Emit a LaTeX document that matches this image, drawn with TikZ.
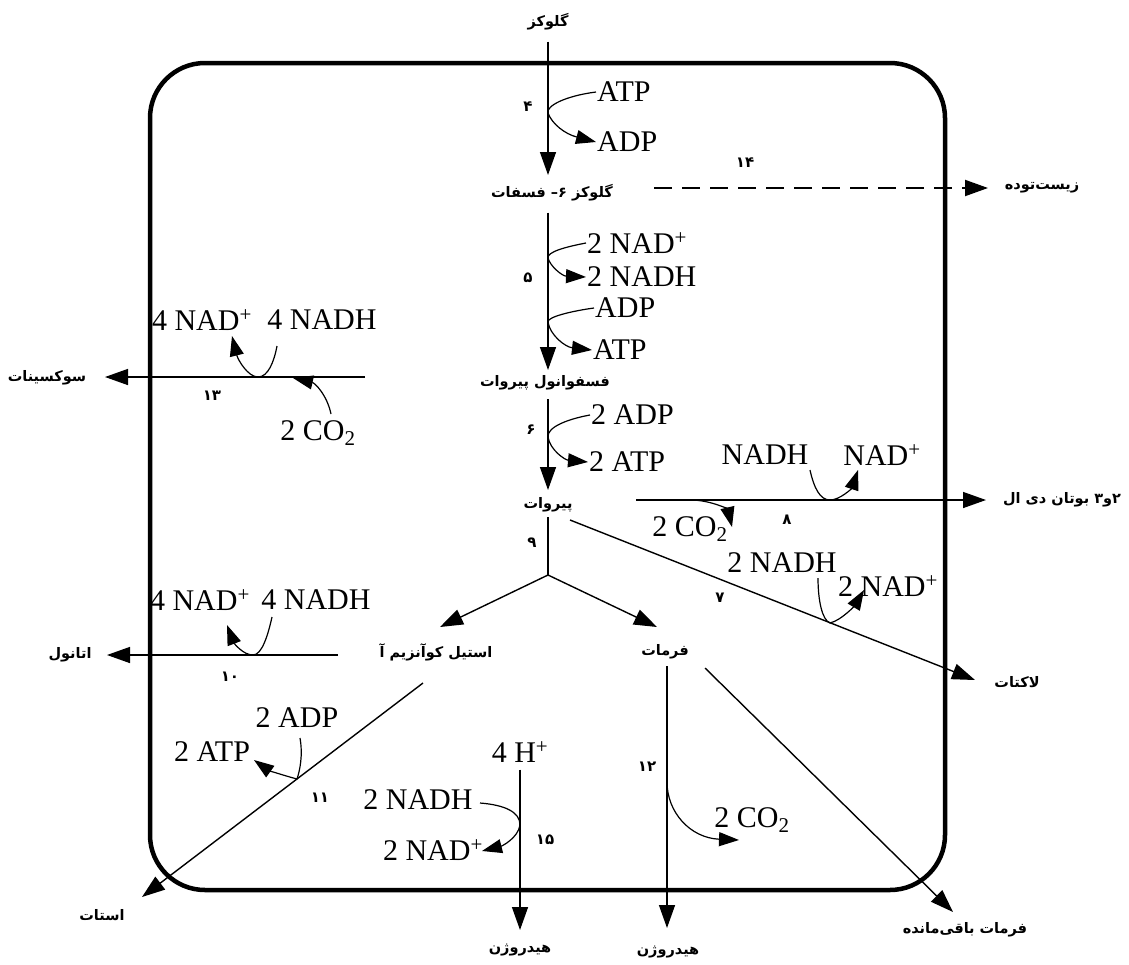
\documentclass[tikz,border=0pt]{standalone}
\usepackage{fontspec}
\setmainfont{Liberation Serif}
\newfontfamily\fa[Script=Arabic]{DejaVu Sans}
\TeXXeTstate=1
\usetikzlibrary{arrows.meta}
\begin{document}
\begin{tikzpicture}[x=1pt,y=-1pt,
  every node/.style={inner sep=1pt},
  fa/.style={font=\fa\bfseries\fontsize{14.5}{16}\selectfont},
  num/.style={font=\fa\bfseries\fontsize{15}{16}\selectfont},
  chem/.style={font=\fontsize{30}{32}\selectfont},
  flow/.style={line width=1.4pt,-{Triangle[length=23pt,width=16pt]}},
  side/.style={line width=1.2pt,-{Triangle[length=20pt,width=14pt]}},
  plain/.style={line width=1.4pt},
  cell/.style={line width=4.5pt,rounded corners=55pt}
]
\useasboundingbox (0,0) rectangle (1129,964);
\draw[cell] (150,63) rectangle (945,890);

% metabolites
\node[fa] (glc) at (548,22) {\beginR گلوکز\endR};
\node[fa] (g6p) at (552,193) {\beginR گلوکز ۶– فسفات\endR};
\node[fa] (pep) at (545,383) {\beginR فسفوانول پیروات\endR};
\node[fa] (pyr) at (548,505) {\beginR پیروات\endR};
\node[fa] (acoa) at (436,652) {\beginR استیل کوآنزیم آ\endR};
\node[fa] (form) at (665,652) {\beginR فرمات\endR};
\node[fa] (biom) at (1042,188) {\beginR زیست‌توده\endR};
\node[fa] (succ) at (47,378) {\beginR سوکسینات\endR};
\node[fa] (bdo) at (1062,500) {\beginR ۲و۳ بوتان دی ال\endR};
\node[fa] (lac) at (1017,682) {\beginR لاکتات\endR};
\node[fa] (eth) at (70,655) {\beginR اتانول\endR};
\node[fa] (acet) at (102,915) {\beginR استات\endR};
\node[fa] (h2a) at (520,950) {\beginR هیدروژن\endR};
\node[fa] (h2b) at (668,952) {\beginR هیدروژن\endR};
\node[fa] (fres) at (965,930) {\beginR فرمات باقی‌مانده\endR};

% step numbers
\node[num] (n4) at (528,107) {۴};
\node[num] (n14) at (745,163) {۱۴};
\node[num] (n5) at (528,278) {۵};
\node[num] (n6) at (531,430) {۶};
\node[num] (n9) at (532,543) {۹};
\node[num] (n8) at (787,520) {۸};
\node[num] (n7) at (720,598) {۷};
\node[num] (n13) at (212,396) {۱۳};
\node[num] (n10) at (230,677) {۱۰};
\node[num] (n11) at (320,798) {۱۱};
\node[num] (n15) at (545,840) {۱۵};
\node[num] (n12) at (647,767) {۱۲};

% cofactors
\node[chem,anchor=west] (atp4) at (596,92) {ATP};
\node[chem,anchor=west] (adp4) at (596,142) {ADP};
\node[chem,anchor=west] (nad5) at (586,243) {2 NAD\textsuperscript{+}};
\node[chem,anchor=west] (nadh5) at (586,277) {2 NADH};
\node[chem,anchor=west] (adp5) at (594,308) {ADP};
\node[chem,anchor=west] (atp5) at (592,350) {ATP};
\node[chem,anchor=west] (adp6) at (590,415) {2 ADP};
\node[chem,anchor=west] (atp6) at (588,462) {2 ATP};
\node[chem] (nadh8) at (765,455) {NADH};
\node[chem] (nad8) at (882,455) {NAD\textsuperscript{+}};
\node[chem] (co28) at (690,529) {2 CO\textsubscript{2}};
\node[chem] (nadh7) at (782,563) {2 NADH};
\node[chem] (nad7) at (888,586) {2 NAD\textsuperscript{+}};
\node[chem] (nad13) at (202,320) {4 NAD\textsuperscript{+}};
\node[chem] (nadh13) at (322,320) {4 NADH};
\node[chem] (co213) at (318,433) {2 CO\textsubscript{2}};
\node[chem] (nad10) at (200,600) {4 NAD\textsuperscript{+}};
\node[chem] (nadh10) at (316,600) {4 NADH};
\node[chem] (adp11) at (297,718) {2 ADP};
\node[chem] (atp11) at (212,752) {2 ATP};
\node[chem] (hp) at (520,752) {4 H\textsuperscript{+}};
\node[chem] (nadh15) at (418,800) {2 NADH};
\node[chem] (nad15) at (433,850) {2 NAD\textsuperscript{+}};
\node[chem] (co212) at (752,820) {2 CO\textsubscript{2}};

% points on pathway lines
\coordinate (c4) at (548,113);
\coordinate (c5a) at (548,258);
\coordinate (c5b) at (548,322);
\coordinate (c6) at (548,437);
\coordinate (br) at (548,575);
\coordinate (tipA) at (440,627);
\coordinate (tipF) at (657,627);
\coordinate (e8s) at (636,500);
\coordinate (e8) at (986,500);
\coordinate (c8a) at (690,500);
\coordinate (c8b) at (830,500);
\coordinate (lacs) at (570,520);
\coordinate (c7) at (830,623);
\coordinate (e13) at (365,377);
\coordinate (c13a) at (258,377);
\coordinate (c13b) at (293,378);
\coordinate (e10) at (338,655);
\coordinate (c10) at (253,655);
\coordinate (acs) at (423,683);
\coordinate (c11) at (297,779);
\coordinate (c15) at (520,825);
\coordinate (c12) at (667,782);
\coordinate (frs) at (705,668);

% main pathway
\draw[flow] (glc.south) ++(0,10) -- (548,175);
\draw[flow] (g6p.south -| c4) ++(0,10) -- (548,370);
\draw[flow] (pep.south -| c4) ++(0,8) -- (548,490);
\draw[plain] (pyr.south -| c4) ++(0,4) -- (br);
\draw[flow] (br) -- (tipA);
\draw[flow] (br) -- (tipF);
\draw[flow] (lacs) -- (975,680);
\draw[flow] (e8s) -- (e8);
\draw[flow,dashed,dash pattern=on 18pt off 10pt,line width=2pt] (g6p.east) ++(40,-5) -- (988,188);
\draw[flow] (e13) -- (105,377);
\draw[flow] (e10) -- (107,655);
\draw[flow] (acs) -- (142,897);
\draw[flow] (hp.south) ++(0,6) -- (520,930);
\draw[flow] (form.south) ++(2,6) -- (667,928);
\draw[flow] (frs) -- (953,912);

% side reactions
\draw[side] (atp4.west) .. controls (565,96) and (546,106) .. (c4) .. controls (552,124) and (565,134) .. (adp4.west);
\draw[side] (nad5.west) .. controls (565,247) and (547,252) .. (c5a) .. controls (550,266) and (562,276) .. (nadh5.west);
\draw[side] (adp5.west) .. controls (572,311) and (547,317) .. (c5b) .. controls (550,335) and (565,347) .. (atp5.west);
\draw[side] (adp6.west) .. controls (568,419) and (547,427) .. (c6) .. controls (550,450) and (565,460) .. (atp6.west);
\draw[side] (810,470) .. controls (814,488) and (820,500) .. (c8b) .. controls (840,500) and (852,488) .. (858,470);
\draw[side] (c8a) .. controls (712,500) and (728,510) .. (732,527);
\draw[side] (818,578) .. controls (818,600) and (822,620) .. (c7) .. controls (842,620) and (855,605) .. (864,590);
\draw[side] (277,346) .. controls (274,362) and (268,377) .. (c13a) .. controls (248,377) and (238,360) .. (232,336);
\draw[side] (331,414) .. controls (327,395) and (315,383) .. (c13b);
\draw[side] (272,617) .. controls (268,635) and (262,655) .. (c10) .. controls (243,655) and (234,643) .. (227,625);
\draw[side] (300,738) .. controls (303,755) and (300,770) .. (c11) .. controls (282,775) and (268,770) .. (254,760);
\draw[side] (480,803) .. controls (505,805) and (520,812) .. (c15) .. controls (518,838) and (502,846) .. (482,851);
\draw[side] (c12) .. controls (667,812) and (690,838) .. (739,840);
\end{tikzpicture}
\end{document}
